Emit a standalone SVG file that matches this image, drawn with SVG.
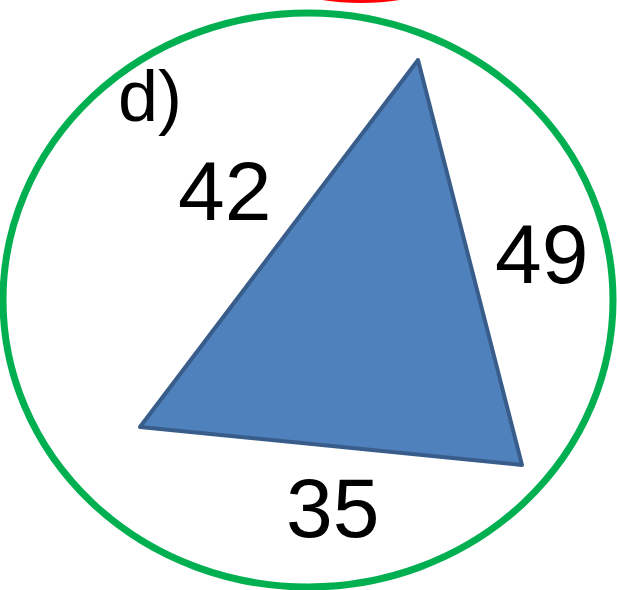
<svg xmlns="http://www.w3.org/2000/svg" width="617" height="590" viewBox="0 0 617 590">
<style>
.lbl{font-family:"Liberation Sans",Arial,sans-serif;fill:#000;}
</style>
<rect width="617" height="590" fill="#fff"/>
<g id="red-arc"><ellipse cx="361" cy="-60" rx="120" ry="60" fill="none" stroke="#FF0000" stroke-width="6"/></g>
<g id="circle"><ellipse cx="308" cy="300" rx="305" ry="287" fill="none" stroke="#00B050" stroke-width="7"/></g>
<g id="triangle"><polygon points="418,60 140,427 522,465" fill="#4F81BD" stroke="#385D8A" stroke-width="4" stroke-linejoin="round"/></g>
<g id="labels">
<text class="lbl" x="118" y="121" font-size="72">d)</text>
<text class="lbl" x="178" y="220" font-size="84">42</text>
<text class="lbl" x="495" y="283" font-size="84">49</text>
<text class="lbl" x="286" y="537" font-size="84">35</text>
</g>
</svg>
